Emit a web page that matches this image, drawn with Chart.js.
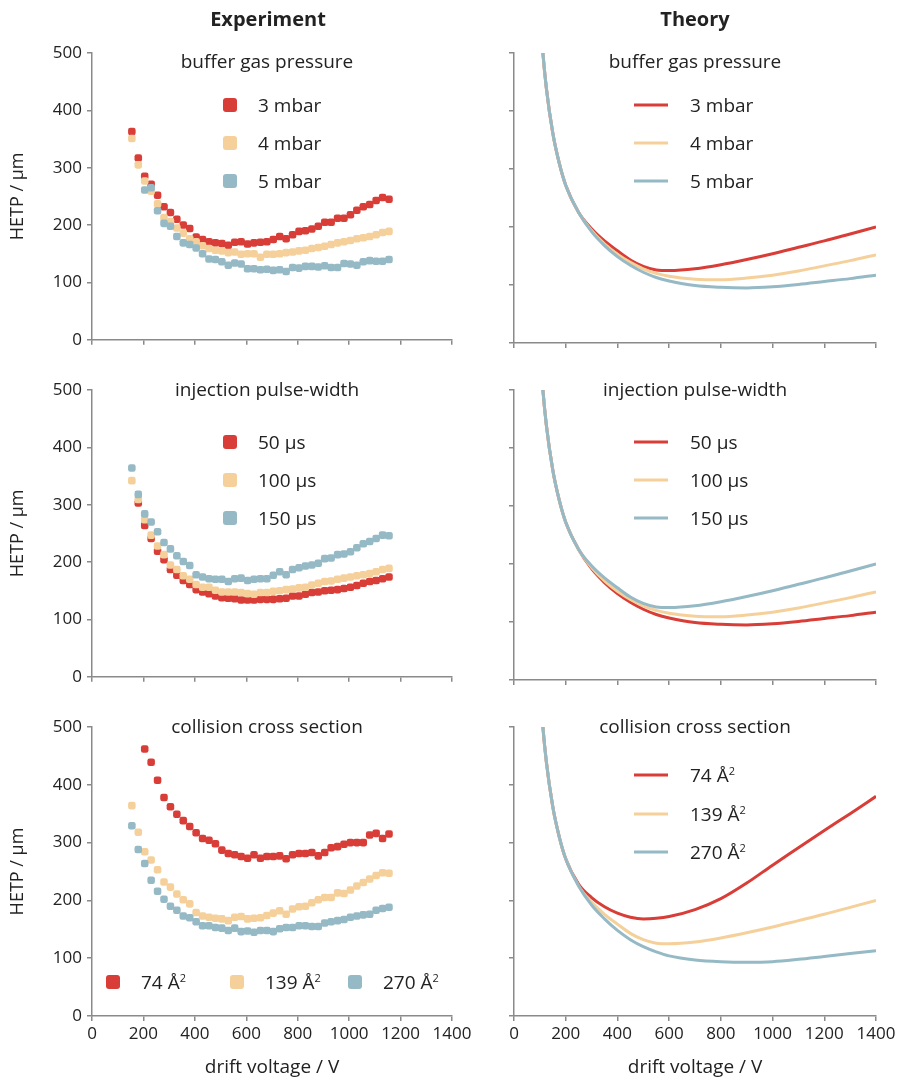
<!DOCTYPE html>
<html>
<head>
<meta charset="utf-8">
<script src="https://cdn.jsdelivr.net/npm/chart.js@4.4.1/dist/chart.umd.min.js"></script>
<style>
body { margin: 0; width: 908px; height: 1084px; position: relative; background: #fff; overflow: hidden;
       font-family: "Open Sans", sans-serif; color: #222; }
canvas { position: absolute; }
.t { position: absolute; white-space: nowrap; font-size: 19px; line-height: 1; }
.c { transform: translate(-50%, -50%); }
.l { transform: translateY(-50%); }
.hd { font-weight: bold; font-size: 20px; }
.sq { position: absolute; width: 14px; height: 14px; border-radius: 3px; transform: translate(-50%, -50%); }
.ln { position: absolute; width: 34px; height: 3px; transform: translateY(-50%); }
</style>
</head>
<body>
<canvas id="expTop" width="480" height="325" style="left:0;top:30px"></canvas>
<canvas id="expMid" width="480" height="325" style="left:0;top:367px"></canvas>
<canvas id="expBot" width="480" height="380" style="left:0;top:704px"></canvas>
<canvas id="thTop" width="448" height="325" style="left:460px;top:30px"></canvas>
<canvas id="thMid" width="448" height="325" style="left:460px;top:367px"></canvas>
<canvas id="thBot" width="448" height="380" style="left:460px;top:704px"></canvas>
<script>
// drift voltage of the measured points (V)
const expVoltage = [155, 180, 205, 230, 255, 280, 305, 330, 355, 380, 405, 430, 455, 480, 505, 530, 555, 580, 605, 630,
    655, 680, 705, 730, 755, 780, 805, 830, 855, 880, 905, 930, 955, 980, 1005, 1030, 1055, 1080, 1105, 1130, 1155];

// buffer gas pressure (HETP / um)
const exp3mbar = [363, 317, 285, 271, 252, 232, 222, 210, 200, 194, 179, 175, 171, 169, 168, 165, 170, 171, 167, 169, 170,
    171, 175, 180, 176, 183, 189, 190, 193, 198, 205, 205, 212, 212, 218, 226, 232, 236, 243, 248, 245];
const exp4mbar = [351, 305, 277, 259, 237, 213, 206, 195, 186, 176, 171, 164, 159, 156, 155, 152, 153, 149, 150, 150, 144,
    149, 149, 150, 152, 153, 155, 156, 159, 161, 163, 166, 169, 171, 173, 176, 178, 180, 183, 187, 189];
const exp5mbar = [null, null, 261, 265, 225, 203, 198, 180, 169, 166, 160, 150, 141, 140, 136, 130, 134, 132, 124, 124, 122,
    123, 121, 122, 119, 126, 125, 128, 128, 127, 129, 126, 126, 133, 132, 130, 136, 138, 137, 137, 140];

// injection pulse-width
const exp50us = [null, 303, 264, 241, 219, 204, 187, 177, 168, 161, 152, 148, 145, 141, 138, 137, 136, 134, 134, 134, 135,
    135, 135, 136, 137, 141, 141, 144, 147, 148, 150, 151, 152, 154, 156, 159, 163, 166, 168, 171, 174];
const exp100us = [342, 309, 274, 247, 228, 213, 195, 187, 176, 170, 161, 156, 156, 151, 148, 148, 148, 147, 145, 144, 147,
    147, 149, 150, 152, 153, 155, 156, 160, 163, 166, 167, 170, 172, 174, 176, 178, 180, 183, 187, 189];
const exp150us = [364, 318, 284, 270, 253, 234, 223, 211, 201, 194, 178, 174, 171, 170, 170, 166, 171, 172, 168, 170, 171,
    171, 177, 183, 178, 187, 190, 193, 195, 198, 206, 207, 213, 214, 218, 225, 232, 236, 241, 247, 246];

// collision cross section
const exp74 = [null, null, 462, 439, 408, 378, 362, 349, 338, 328, 317, 307, 304, 298, 287, 281, 279, 276, 273, 279, 273,
    276, 276, 277, 272, 279, 281, 281, 283, 277, 283, 291, 293, 297, 300, 300, 300, 313, 316, 307, 315];
const exp139 = [364, 318, 284, 270, 253, 232, 223, 211, 201, 194, 179, 173, 171, 169, 168, 165, 171, 172, 168, 169, 170,
    174, 178, 182, 176, 185, 189, 190, 196, 201, 205, 205, 213, 212, 218, 225, 231, 237, 243, 248, 247];
const exp270 = [329, 288, 264, 235, 216, 202, 190, 183, 173, 170, 163, 156, 156, 153, 152, 148, 152, 146, 147, 145, 148,
    148, 146, 151, 153, 153, 156, 156, 155, 155, 161, 163, 165, 167, 171, 173, 175, 176, 183, 186, 188];

const theoryVoltage = [100, 110, 125, 150, 175, 200, 250, 300, 350, 400, 450, 500, 550, 600, 700, 800, 900, 1000, 1100, 1200, 1300, 1400];
const thHigh = [580, 510, 440, 362, 310, 272, 225, 197, 176, 159, 143, 132, 126, 125, 128, 135, 144, 154, 165, 176, 188, 200];
const thMidC = [580, 510, 440, 362, 310, 272, 225, 194, 171, 153, 139, 128, 120, 115, 110, 109, 112, 117, 124, 133, 142, 152];
const thLow  = [580, 510, 440, 362, 310, 272, 225, 192, 168, 149, 134, 122, 113, 107, 99, 96, 95, 97, 101, 106, 111, 117];
const th74   = [580, 510, 440, 362, 310, 272, 228, 205, 189, 178, 171, 168, 169, 172, 184, 203, 230, 261, 291, 321, 350, 380];
const th270  = [580, 510, 440, 362, 310, 272, 225, 192, 168, 148, 132, 120, 111, 104, 97, 94, 93, 94, 98, 103, 108, 113];

const RED = '#d83d37';
const YELLOW = '#f5d09a';
const BLUE = '#95b9c5';
const GREY = '#8a8a8a';
const FONT = '"Open Sans", sans-serif';

function toPoints(xs, ys) {
    return xs.map((x, i) => ({ x: x, y: ys[i] }));
}

function dots(values, color, order) {
    return {
        data: toPoints(expVoltage, values),
        backgroundColor: color,
        borderWidth: 0,
        pointStyle: 'rectRounded',
        pointRadius: 4.4,
        order: order
    };
}

function curve(values, color, order) {
    return {
        data: toPoints(theoryVoltage, values),
        borderColor: color,
        borderWidth: 3,
        showLine: true,
        pointRadius: 0,
        cubicInterpolationMode: 'monotone',
        order: order
    };
}

function drawPanel(id, datasets, cfg) {
    const ctx = document.getElementById(id).getContext('2d');
    return new Chart(ctx, {
        type: 'scatter',
        data: { datasets: datasets },
        options: {
            responsive: false,
            animation: false,
            events: [],
            layout: { padding: { top: 23, right: cfg.padRight, left: 0, bottom: 0 } },
            plugins: { legend: { display: false }, tooltip: { enabled: false } },
            scales: {
                x: {
                    type: 'linear', min: 0, max: 1400,
                    ticks: { stepSize: 200, display: cfg.xLabels, autoSkip: false, maxRotation: 0,
                             callback: v => String(v),
                             font: { family: FONT, size: 17 }, color: '#222', padding: 3 },
                    grid: { drawOnChartArea: false, tickLength: 5, color: GREY, lineWidth: 1.5 },
                    border: { color: GREY, width: 1.5 },
                    title: { display: cfg.xLabels, text: 'drift voltage / V', color: '#222',
                             font: { family: FONT, size: 19 }, padding: { top: 0, bottom: 5 } },
                    afterFit: s => { s.height = cfg.xHeight; }
                },
                y: {
                    type: 'linear', min: 0, max: 500,
                    ticks: { stepSize: 100, display: cfg.yLabels, font: { family: FONT, size: 17 }, color: '#222', padding: 5 },
                    grid: { drawOnChartArea: false, tickLength: 5, color: GREY, lineWidth: 1.5 },
                    border: { color: GREY, width: 1.5 },
                    title: { display: cfg.yLabels, text: 'HETP / µm', color: '#222',
                             font: { family: FONT, size: 18 }, padding: { top: 7, bottom: 0 } },
                    afterFit: s => { s.width = cfg.yWidth; }
                }
            }
        }
    });
}

const leftTop = { padRight: 28, yWidth: 92, xHeight: 12, xLabels: false, yLabels: true };
const leftBot = { padRight: 28, yWidth: 92, xHeight: 68, xLabels: true, yLabels: true };
const rightTop = { padRight: 32, yWidth: 54, xHeight: 12, xLabels: false, yLabels: false };
const rightBot = { padRight: 32, yWidth: 54, xHeight: 68, xLabels: true, yLabels: false };

drawPanel('expTop', [dots(exp3mbar, RED, 3), dots(exp4mbar, YELLOW, 2), dots(exp5mbar, BLUE, 1)], leftTop);
drawPanel('expMid', [dots(exp50us, RED, 3), dots(exp100us, YELLOW, 2), dots(exp150us, BLUE, 1)], leftTop);
drawPanel('expBot', [dots(exp74, RED, 3), dots(exp139, YELLOW, 2), dots(exp270, BLUE, 1)], leftBot);
drawPanel('thTop', [curve(thHigh, RED, 3), curve(thMidC, YELLOW, 2), curve(thLow, BLUE, 1)], rightTop);
drawPanel('thMid', [curve(thLow, RED, 3), curve(thMidC, YELLOW, 2), curve(thHigh, BLUE, 1)], rightTop);
drawPanel('thBot', [curve(th74, RED, 3), curve(thHigh, YELLOW, 2), curve(th270, BLUE, 1)], rightBot);

// titles and legends
function addText(html, x, y, cls) {
    const d = document.createElement('div');
    d.className = 't ' + cls;
    d.style.left = x + 'px';
    d.style.top = y + 'px';
    d.innerHTML = html;
    document.body.appendChild(d);
}
function addMarker(x, y, color, line) {
    const d = document.createElement('div');
    d.className = line ? 'ln' : 'sq';
    d.style.left = x + 'px';
    d.style.top = y + 'px';
    d.style.background = color;
    document.body.appendChild(d);
}

addText('Experiment', 268, 19, 'c hd');
addText('Theory', 695, 19, 'c hd');

const subtitles = ['buffer gas pressure', 'injection pulse-width', 'collision cross section'];
const subtitleY = [61, 389, 726];
subtitles.forEach((s, i) => {
    addText(s, 267, subtitleY[i], 'c');
    addText(s, 695, subtitleY[i], 'c');
});

const colors = [RED, YELLOW, BLUE];
const pressureLabels = ['3 mbar', '4 mbar', '5 mbar'];
const pulseLabels = ['50 µs', '100 µs', '150 µs'];
const ccsLabels = ['74 Å<sup style="font-size:11px;vertical-align:7px">2</sup>',
                   '139 Å<sup style="font-size:11px;vertical-align:7px">2</sup>',
                   '270 Å<sup style="font-size:11px;vertical-align:7px">2</sup>'];

[105, 143, 181].forEach((y, i) => {
    addMarker(230, y, colors[i], false);
    addText(pressureLabels[i], 258, y, 'l');
    addMarker(634, y, colors[i], true);
    addText(pressureLabels[i], 690, y, 'l');
});
[442, 480, 518].forEach((y, i) => {
    addMarker(230, y, colors[i], false);
    addText(pulseLabels[i], 258, y, 'l');
    addMarker(634, y, colors[i], true);
    addText(pulseLabels[i], 690, y, 'l');
});
[113, 237, 355].forEach((x, i) => {
    addMarker(x, 982, colors[i], false);
    addText(ccsLabels[i], x + 28, 982, 'l');
});
[775, 814, 852].forEach((y, i) => {
    addMarker(634, y, colors[i], true);
    addText(ccsLabels[i], 690, y, 'l');
});
</script>
</body>
</html>
